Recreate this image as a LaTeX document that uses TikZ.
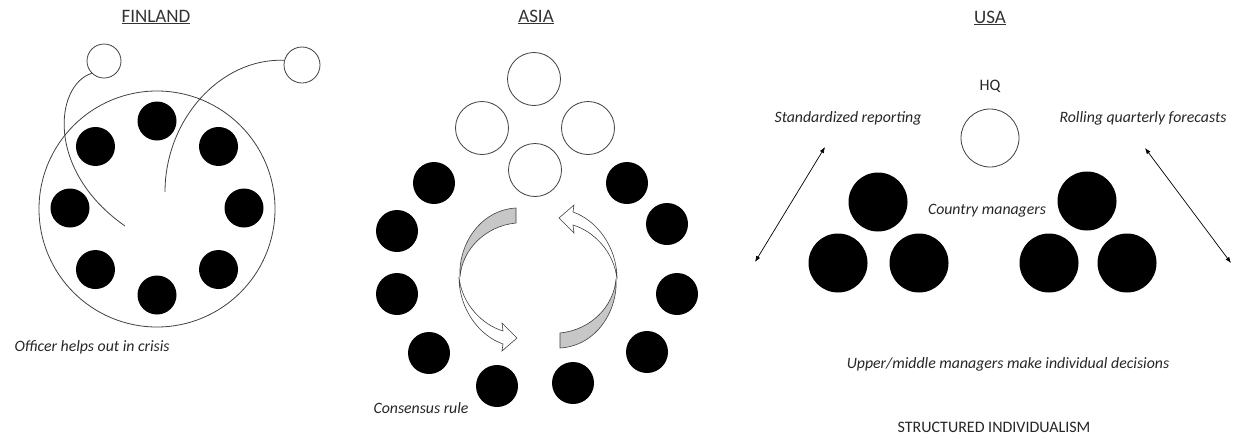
\documentclass[tikz,border=0pt]{standalone}
\usepackage{fontspec}
\setmainfont{Carlito}
\usetikzlibrary{arrows.meta}

\begin{document}
\begin{tikzpicture}[
    x=1pt, y=-1pt,
    >={Latex[length=6pt, width=4.5pt]},
    dot/.style={circle, fill=black, inner sep=0pt, minimum size=#1},
    dot/.default=40pt,
    hollow/.style={circle, draw=black!75, line width=0.8pt, fill=white, inner sep=0pt, minimum size=#1},
    title/.style={font=\fontsize{19}{22}\selectfont, text=black!80},
    note/.style={font=\fontsize{15.8}{18}\selectfont\itshape, text=black!85},
    plain/.style={font=\fontsize{16}{19}\selectfont, text=black!85},
    link/.style={line width=0.8pt, draw=black!75}
]
    \useasboundingbox (0,0) rectangle (1233,437);

    % FINLAND
    \node[title] (fin) at (156,17) {\underline{FINLAND}};
    \node[hollow=236pt, fill=none] (ring) at (157,209) {};
    \foreach \a in {0,45,...,315}
        \node[dot=39pt] (fin-\a) at ([shift={(\a:87)}]157,208) {};
    \node[hollow=34pt] (off1) at (104,61) {};
    \node[hollow=36pt] (off2) at (302,65) {};
    \coordinate (end1) at (125,226);
    \coordinate (end2) at (165,192);
    \draw[link] (off1.225) .. controls (55,85) and (45,170) .. (end1);
    \draw[link] (off2.165) .. controls (220,58) and (165,120) .. (end2);
    \node[note, anchor=west] (help) at (11,347) {Officer helps out in crisis};

    % ASIA
    \node[title] (asia) at (536,17) {\underline{ASIA}};
    \foreach \p [count=\i] in {(534,79), (482,128), (588,128), (535,170)}
        \node[hollow=53pt] (lead-\i) at \p {};
    \foreach \p [count=\i] in {(434,183), (397,231), (397,294), (429,353), (497,386),
                               (573,383), (647,352), (677,294), (667,224), (627,183)}
        \node[dot=42pt] (mem-\i) at \p {};

    % 循环箭头
    \def\cyclearrow{
        \draw[link, line width=0.6pt, fill=black!22]
            (516,208) -- (516,223) .. controls (485,226) and (462,250) .. (460,277)
            .. controls (458,245) and (480,210) .. (516,208) -- cycle;
        \draw[link, line width=0.6pt, fill=white]
            (459,277) .. controls (459,310) and (480,336) .. (503,344)
            -- (502,351) -- (517,338) -- (502,323) -- (503,331)
            .. controls (483,325) and (462,305) .. (459,277) -- cycle;
    }
    \cyclearrow
    \begin{scope}[rotate around={180:(538,278)}]
        \cyclearrow
    \end{scope}
    \node[note, anchor=west] (cons) at (370,408) {Consensus rule};

    % USA
    \node[title] (usa) at (990,18) {\underline{USA}};
    \node[plain] (hqtext) at (990,86) {HQ};
    \node[hollow=58pt] (hq) at (990,138) {};
    \foreach \p [count=\i] in {(878,202), (838,263), (919,263), (1087,201), (1049,263), (1127,263)}
        \node[dot=59pt] (cm-\i) at \p {};
    \node[note] (std) at (848,118) {Standardized reporting};
    \node[note] (roll) at (1143,118) {Rolling quarterly forecasts};
    \coordinate (sa) at (825,147);
    \coordinate (sb) at (755,262);
    \coordinate (ra) at (1145,148);
    \coordinate (rb) at (1231,263);
    \draw[<->, line width=0.7pt] (sa) -- (sb);
    \draw[<->, line width=0.7pt] (ra) -- (rb);
    \node[note] (mgr) at (987,211) {Country managers};
    \node[note] (upper) at (1008,364) {Upper/middle managers make individual decisions};
    \node[plain] (struct) at (994,427) {STRUCTURED INDIVIDUALISM};
\end{tikzpicture}
\end{document}
